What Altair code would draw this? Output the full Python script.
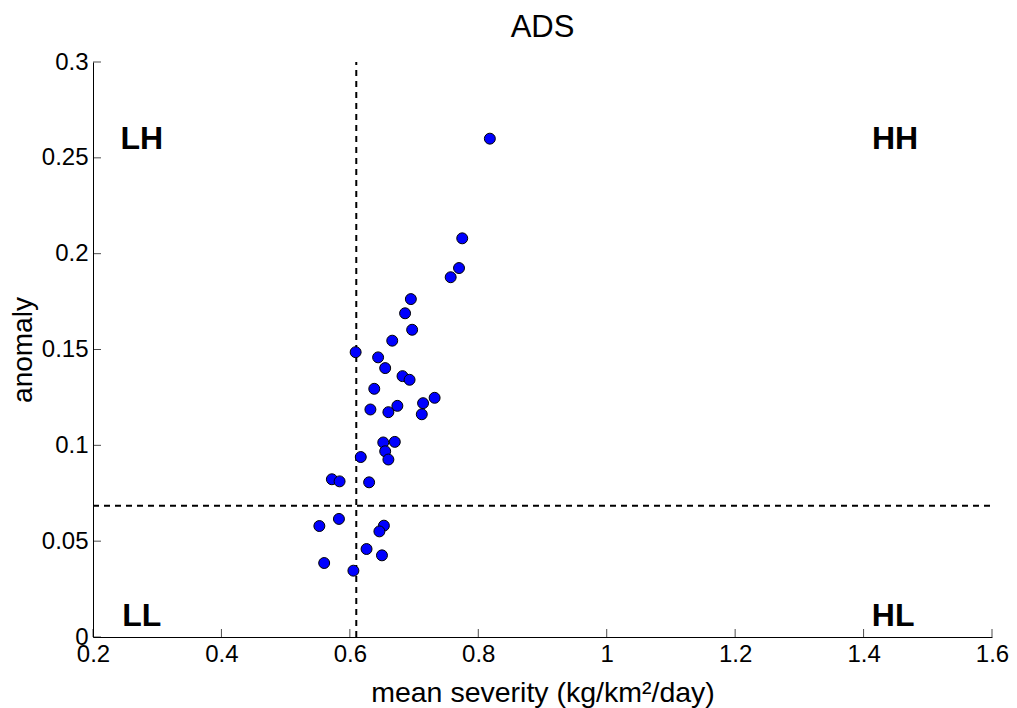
import altair as alt
import pandas as pd

# Mean severity (kg/km^2/day) and anomaly per site
severity = [0.818, 0.775, 0.770, 0.757, 0.695, 0.686, 0.697, 0.666, 0.609, 0.644,
            0.655, 0.682, 0.693, 0.638, 0.732, 0.714, 0.674, 0.632, 0.660, 0.712,
            0.670, 0.652, 0.655, 0.660, 0.617, 0.572, 0.584, 0.630, 0.583, 0.5525,
            0.653, 0.646, 0.626, 0.650, 0.560, 0.6055]
anomaly = [0.260, 0.208, 0.1925, 0.1877, 0.1763, 0.1689, 0.1603, 0.1546, 0.1486, 0.1459,
           0.1403, 0.1361, 0.1342, 0.1295, 0.1248, 0.122, 0.1206, 0.1187, 0.1173, 0.1162,
           0.1018, 0.1015, 0.0969, 0.0926, 0.0939, 0.0823, 0.0812, 0.0807, 0.0616, 0.0579,
           0.0581, 0.0551, 0.0459, 0.0426, 0.0386, 0.0346]

# Threshold lines splitting the quadrants
x_split = 0.61
y_split = 0.0685

quad_labels = ["LH", "HH", "LL", "HL"]
quad_x = [0.276, 1.449, 0.276, 1.446]
quad_y = [0.260, 0.260, 0.0107, 0.0107]

x_ticks = [0.2, 0.4, 0.6, 0.8, 1.0, 1.2, 1.4, 1.6]
y_ticks = [0, 0.05, 0.1, 0.15, 0.2, 0.25, 0.3]

FONT = "Liberation Sans"

pts = pd.DataFrame({"severity": severity, "anomaly": anomaly})
quads = pd.DataFrame({"label": quad_labels, "x": quad_x, "y": quad_y})
xt = pd.DataFrame({"v": x_ticks})
yt = pd.DataFrame({"v": y_ticks})

xscale = alt.Scale(domain=[0.2, 1.6], nice=False, zero=False)
yscale = alt.Scale(domain=[0, 0.3], nice=False, zero=False)

x_axis = alt.Axis(values=x_ticks, ticks=False, grid=False, domainColor="black",
                  labelFontSize=24, labelFont=FONT, labelColor="black", labelPadding=5,
                  labelFlush=False,
                  title="mean severity (kg/km²/day)", titleFontSize=28.5, titleFont=FONT,
                  titleFontWeight="normal", titleColor="black", titlePadding=12,
                  labelExpr="datum.value == 1 ? '1' : format(datum.value, '.1f')")
y_axis = alt.Axis(values=y_ticks, ticks=False, grid=False, domainColor="black",
                  labelFontSize=24, labelFont=FONT, labelColor="black", labelPadding=5,
                  labelFlush=False,
                  title="anomaly", titleFontSize=28, titleFont=FONT,
                  titleFontWeight="normal", titleColor="black", titlePadding=4,
                  labelExpr="datum.value == 0 ? '0' : '' + datum.value")

points = alt.Chart(pts).mark_circle(size=120, color="#0000ff", stroke="black",
                                    strokeWidth=1, opacity=1).encode(
    x=alt.X("severity:Q", scale=xscale, axis=x_axis),
    y=alt.Y("anomaly:Q", scale=yscale, axis=y_axis),
)

vline = alt.Chart(pd.DataFrame({"x": [x_split]})).mark_rule(
    color="black", strokeWidth=2, strokeDash=[6, 5]).encode(
    x=alt.X("x:Q", scale=xscale), y=alt.datum(0), y2=alt.datum(0.3))

hline = alt.Chart(pd.DataFrame({"y": [y_split]})).mark_rule(
    color="black", strokeWidth=2, strokeDash=[6, 5]).encode(
    y=alt.Y("y:Q", scale=yscale), x=alt.datum(0.2), x2=alt.datum(1.6))

labels = alt.Chart(quads).mark_text(fontSize=32, fontWeight="bold", font=FONT,
                                    color="black").encode(
    x=alt.X("x:Q", scale=xscale), y=alt.Y("y:Q", scale=yscale), text="label:N")

# Inward-facing tick marks along both axes
xticks = alt.Chart(xt).mark_tick(orient="vertical", size=8, yOffset=-4,
                                 color="black", thickness=1).encode(
    x=alt.X("v:Q", scale=xscale), y=alt.datum(0))
yticks = alt.Chart(yt).mark_tick(orient="horizontal", size=8, xOffset=4,
                                 color="black", thickness=1).encode(
    y=alt.Y("v:Q", scale=yscale), x=alt.datum(0.2))

chart = alt.layer(vline, hline, points, labels, xticks, yticks).properties(
    width=899, height=575,
    background="white",
    title=alt.TitleParams("ADS", fontSize=31, font=FONT, fontWeight="normal",
                          color="black", offset=6),
    autosize=alt.AutoSizeParams(type="none"),
    padding={"left": 93, "top": 62, "right": 25, "bottom": 72},
).configure_view(stroke="transparent", strokeWidth=0)

chart.save("out.html", embed_options={"renderer": "svg", "actions": False})
